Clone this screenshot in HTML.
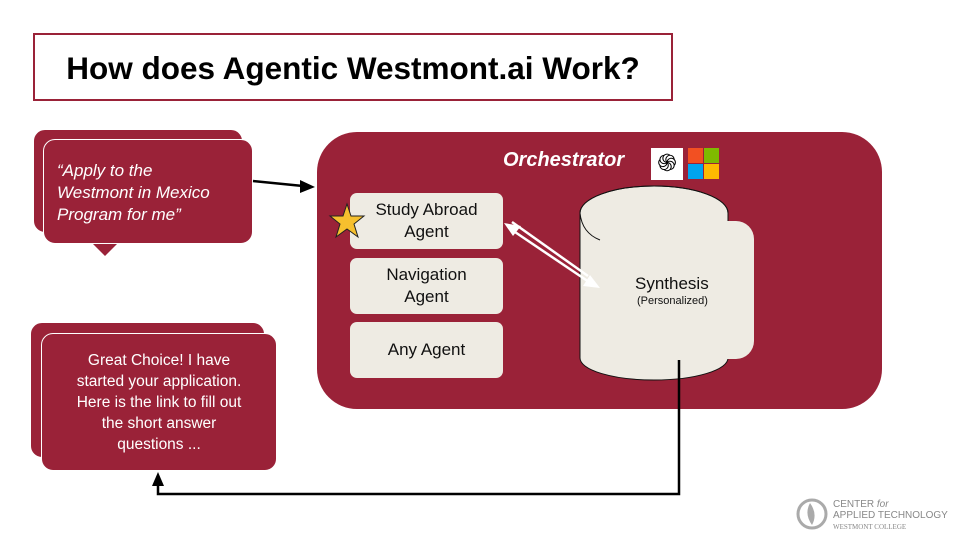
<!DOCTYPE html>
<html><head><meta charset="utf-8"><style>
body{margin:0;width:960px;height:540px;background:#fff;position:relative;overflow:hidden;font-family:"Liberation Sans",sans-serif}
.a{position:absolute}
.title{left:33px;top:33px;width:640px;height:68px;border:2px solid #9a2238;box-sizing:border-box;font-weight:bold;font-size:31.5px;line-height:66px;text-align:center;color:#000;white-space:nowrap}
.bub{background:#9a2238;border-radius:12px;border:1.5px solid #fff;box-sizing:border-box}
.ag{background:#eeebe3;border-radius:7px;left:350px;width:153px;font-size:17px;text-align:center;color:#111;display:flex;align-items:center;justify-content:center;line-height:22px}
</style></head><body>
<div class="a title">How does Agentic Westmont.ai Work?</div>

<div class="a bub" style="left:33px;top:129px;width:210px;height:104px"></div>
<div class="a" style="left:87px;top:238px;width:0;height:0;border-left:18px solid transparent;border-right:18px solid transparent;border-top:18px solid #9a2238"></div>
<div class="a bub" style="left:43px;top:139px;width:210px;height:105px;color:#fff;font-style:italic;font-size:17px;line-height:22px;padding:20px 0 0 13px;white-space:nowrap">“Apply to the<br>Westmont in Mexico<br>Program for me”</div>

<div class="a bub" style="left:30px;top:322px;width:235px;height:136px"></div>
<div class="a bub" style="left:41px;top:333px;width:236px;height:138px;color:#fff;font-size:15.5px;line-height:21px;text-align:center;padding:16px 0 0;white-space:nowrap">Great Choice! I have<br>started your application.<br>Here is the link to fill out<br>the short answer<br>questions ...</div>

<div class="a" style="left:317px;top:132px;width:565px;height:277px;background:#9a2238;border-radius:40px"></div>
<div class="a" style="left:503px;top:149px;color:#fff;font-weight:bold;font-style:italic;font-size:20px">Orchestrator</div>
<div class="a" style="left:651px;top:148px;width:32px;height:32px;background:#fff;font-size:24px;line-height:32px;text-align:center;color:#000">֍</div>
<div class="a" style="left:688px;top:148px;width:15px;height:15px;background:#f25022"></div>
<div class="a" style="left:704px;top:148px;width:15px;height:15px;background:#7fba00"></div>
<div class="a" style="left:688px;top:164px;width:15px;height:15px;background:#00a4ef"></div>
<div class="a" style="left:704px;top:164px;width:15px;height:15px;background:#ffb900"></div>

<div class="a ag" style="top:193px;height:56px">Study Abroad<br>Agent</div>
<div class="a ag" style="top:258px;height:56px">Navigation<br>Agent</div>
<div class="a ag" style="top:322px;height:56px">Any Agent</div>

<svg class="a" style="left:0;top:0" width="960" height="540">
<polygon points="347,204 351,216 364,216 354,224 358,237 347,229 336,237 340,224 330,216 343,216" fill="#f6c02e" stroke="#222" stroke-width="1"/>
<path d="M580,213 L580,358 A74,22 0 0 0 728,358 L728,213 A74,27 0 0 0 580,213 Z" fill="#eeebe3" stroke="#111" stroke-width="1"/>
<rect x="600" y="221" width="154" height="138" rx="18" fill="#eeebe3"/>
<rect x="581" y="240" width="40" height="110" fill="#eeebe3"/>
<path d="M580,213 A74,27 0 0 1 728,213" fill="none" stroke="#111" stroke-width="1"/>
<path d="M580,213 Q582,233 600,240" fill="none" stroke="#111" stroke-width="1"/>
<line x1="512" y1="230" x2="592" y2="284" stroke="#fff" stroke-width="2.5"/>
<line x1="512" y1="222" x2="588" y2="276" stroke="#fff" stroke-width="2.5"/>
<polygon points="504,223 521,226 513,236" fill="#fff"/>
<polygon points="600,288 583,286 590,275" fill="#fff"/>
<line x1="253" y1="181" x2="303" y2="186" stroke="#000" stroke-width="2.5"/>
<polygon points="315,187 300,180 300,193" fill="#000"/>
<polyline points="679,360 679,494 158,494 158,484" fill="none" stroke="#000" stroke-width="2.5"/>
<polygon points="158,472 152,486 164,486" fill="#000"/>
<circle cx="812" cy="514" r="14" fill="none" stroke="#aaa" stroke-width="3"/>
<path d="M810,503 Q804,514 812,525 Q818,514 810,503Z" fill="#aaa"/>
</svg>
<div class="a" style="left:635px;top:274px;font-size:17px;color:#111">Synthesis</div>
<div class="a" style="left:637px;top:295px;font-size:11px;color:#111">(Personalized)</div>
<div class="a" style="left:833px;top:499px;font-size:10px;line-height:11px;color:#888;white-space:nowrap">CENTER <i>for</i><br>APPLIED TECHNOLOGY<br><span style="font-size:7px;font-family:'Liberation Serif',serif">WESTMONT COLLEGE</span></div>
</body></html>
